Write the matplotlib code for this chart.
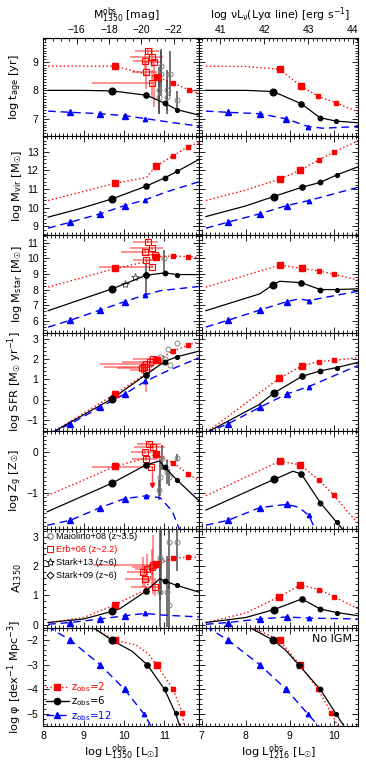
import matplotlib
matplotlib.use('Agg')
import matplotlib.pyplot as plt
from matplotlib.ticker import MultipleLocator, AutoMinorLocator, FixedLocator
from matplotlib.lines import Line2D

plt.rcParams['font.family'] = ['Liberation Sans', 'DejaVu Sans']
plt.rcParams['mathtext.fontset'] = 'dejavusans'
plt.rcParams['mathtext.default'] = 'regular'

# ---- model curves: z_obs -> (log L, value, indices of points with a marker)
tage_uv = {
    2: ([8.12, 9.0, 9.78, 10.81, 11.22, 11.61, 11.87], [8.85, 8.85, 8.85, 8.47, 8.26, 8.02, 7.88], [2, 3, 4, 5]),
    6: ([8.12, 9.0, 9.71, 10.56, 11.01, 11.32, 11.87], [8.0, 8.0, 7.98, 7.83, 7.55, 7.32, 7.13], [2, 3, 4, 5]),
    12: ([8.12, 8.67, 9.41, 10.02, 10.52, 11.05, 11.87], [7.27, 7.23, 7.18, 7.11, 7.01, 6.9, 6.74], [1, 2, 3, 4]),
}
tage_lya = {
    2: ([7.1, 8.0, 8.77, 9.26, 9.64, 10.05, 10.55], [8.85, 8.84, 8.74, 8.14, 7.79, 7.56, 7.24], [2, 3, 4, 5]),
    6: ([7.1, 8.0, 8.62, 9.26, 9.68, 10.05, 10.55], [8.0, 8.0, 7.96, 7.53, 7.04, 6.92, 6.86], [2, 3, 4, 5]),
    12: ([7.1, 7.6, 8.32, 8.92, 9.41, 9.75, 10.55], [7.27, 7.23, 7.18, 7.0, 6.73, 6.67, 6.73], [1, 2, 3, 4]),
}
mvir_uv = {
    2: ([8.12, 9.78, 10.56, 10.79, 11.22, 11.6, 11.87], [10.39, 11.31, 11.63, 12.22, 12.79, 13.28, 13.5], [1, 3, 4, 5]),
    6: ([8.12, 8.9, 9.71, 10.54, 11.01, 11.32, 11.87], [9.5, 9.95, 10.48, 11.15, 11.6, 11.95, 12.6], [2, 3, 4, 5]),
    12: ([8.12, 8.67, 9.41, 10.02, 10.52, 11.05, 11.87], [8.91, 9.23, 9.68, 10.12, 10.42, 10.85, 11.4], [1, 2, 3, 4]),
}
mvir_lya = {
    2: ([7.1, 8.0, 8.77, 9.24, 9.66, 10.0, 10.55], [10.39, 10.95, 11.54, 12.02, 12.57, 13.0, 13.59], [2, 3, 4, 5]),
    6: ([7.1, 8.0, 8.63, 9.27, 9.69, 10.06, 10.55], [9.53, 10.1, 10.6, 11.1, 11.36, 11.76, 12.2], [2, 3, 4, 5]),
    12: ([7.1, 7.6, 8.32, 8.93, 9.43, 10.55], [8.91, 9.23, 9.68, 10.12, 10.39, 11.1], [1, 2, 3, 4]),
}
mstar_uv = {
    2: ([8.12, 9.78, 10.6, 10.79, 11.22, 11.6, 11.87], [8.16, 9.35, 9.8, 10.1, 10.15, 10.1, 10.06], [1, 3, 4, 5]),
    6: ([8.12, 9.71, 10.56, 11.01, 11.32, 11.87], [6.65, 8.05, 8.92, 9.07, 8.96, 8.96], [1, 2, 3, 4]),
    12: ([8.12, 8.67, 9.41, 10.02, 10.52, 10.9, 11.87], [5.6, 6.04, 6.69, 7.23, 7.66, 7.93, 8.2], [1, 2, 3, 4]),
}
mstar_lya = {
    2: ([7.1, 8.78, 9.27, 9.66, 10.0, 10.55], [8.16, 9.57, 9.35, 9.2, 8.98, 8.6], [1, 2, 3, 4]),
    6: ([7.1, 8.32, 8.62, 8.77, 9.26, 9.69, 10.06, 10.55], [6.65, 7.73, 8.31, 8.53, 8.44, 8.0, 8.0, 8.05], [2, 4, 5, 6]),
    12: ([7.1, 7.6, 8.32, 8.93, 9.2, 9.43, 10.55], [5.6, 6.04, 6.69, 7.23, 7.4, 7.3, 7.9], [1, 2, 3, 5]),
}
sfr_uv = {
    2: ([8.2, 9.78, 10.56, 10.81, 11.22, 11.6, 11.87], [-1.65, 0.28, 1.31, 1.95, 2.41, 2.71, 2.87], [1, 3, 4, 5]),
    6: ([8.2, 9.71, 10.54, 11.01, 11.32, 11.87], [-1.65, 0.05, 1.23, 1.89, 2.13, 2.41], [1, 2, 3, 4]),
    12: ([8.2, 8.67, 9.41, 10.02, 10.52, 11.05, 11.87], [-1.65, -1.2, -0.38, 0.28, 0.9, 1.4, 2.08], [1, 2, 3, 4]),
}
sfr_lya = {
    2: ([7.1, 8.76, 9.27, 9.66, 10.0, 10.55], [-1.65, 1.06, 1.67, 1.89, 1.95, 2.08], [1, 2, 3, 4]),
    6: ([7.1, 8.3, 8.64, 9.27, 9.69, 10.06, 10.55], [-1.65, -0.25, 0.33, 1.15, 1.43, 1.59, 1.85], [2, 3, 4, 5]),
    12: ([7.1, 7.6, 8.32, 8.93, 9.43, 10.55], [-1.65, -1.2, -0.38, 0.28, 0.65, 1.7], [1, 2, 3, 4]),
}
zg_uv = {
    2: ([8.1, 9.78, 10.6, 10.79, 11.22, 11.6, 11.87], [-1.07, -0.35, -0.14, -0.06, -0.27, -0.54, -0.7], [1, 3, 4, 5]),
    6: ([8.1, 9.71, 10.54, 10.88, 11.01, 11.32, 11.87], [-1.46, -0.76, -0.32, -0.22, -0.37, -0.69, -1.2], [1, 2, 4, 5]),
    12: ([8.1, 8.67, 9.41, 10.02, 10.56, 10.9, 11.2, 11.4], [-1.79, -1.67, -1.36, -1.14, -1.07, -1.12, -1.45, -1.95], [1, 2, 3, 4]),
}
zg_lya = {
    2: ([7.1, 8.78, 9.24, 9.66, 10.0, 10.3, 10.55], [-1.07, -0.22, -0.32, -0.69, -1.06, -1.45, -1.75], [1, 2, 3, 4]),
    6: ([7.1, 8.64, 8.8, 9.07, 9.26, 9.69, 10.06, 10.25], [-1.42, -0.67, -0.6, -0.47, -0.54, -1.24, -1.72, -1.95], [1, 4, 5, 6]),
    12: ([7.1, 7.6, 8.32, 8.93, 9.2, 9.43, 9.6], [-1.79, -1.67, -1.36, -1.28, -1.35, -1.55, -1.95], [1, 2, 3, 5]),
}
a1350_uv = {
    2: ([8.12, 9.0, 9.78, 10.54, 10.79, 11.22, 11.6, 11.87], [0.08, 0.25, 0.68, 1.2, 2.06, 2.26, 2.31, 2.3], [2, 4, 5, 6]),
    6: ([8.12, 9.0, 9.71, 9.9, 10.54, 10.89, 11.01, 11.32, 11.87], [0.08, 0.2, 0.46, 0.55, 1.14, 1.57, 1.49, 1.34, 1.11], [2, 4, 6, 7]),
    12: ([8.12, 8.67, 9.41, 10.02, 10.52, 11.0, 11.87], [0.02, 0.08, 0.2, 0.31, 0.39, 0.33, 0.27], [1, 2, 3, 4]),
}
a1350_lya = {
    2: ([7.1, 8.0, 8.76, 9.24, 9.66, 10.0, 10.55], [0.08, 0.4, 0.96, 1.36, 1.2, 0.96, 0.54], [2, 3, 4, 5]),
    6: ([7.1, 8.0, 8.64, 9.27, 9.69, 10.06, 10.55], [0.08, 0.25, 0.52, 0.88, 0.54, 0.42, 0.31], [2, 3, 4, 5]),
    12: ([7.1, 7.6, 8.32, 8.93, 9.43, 10.55], [0.02, 0.08, 0.2, 0.27, 0.23, 0.2], [1, 2, 3, 4]),
}
phi_uv = {
    2: ([9.16, 9.78, 10.3, 10.6, 10.81, 11.22, 11.45, 11.5], [-1.45, -2.0, -2.2, -2.55, -3.0, -3.99, -4.96, -5.5], [1, 4, 5, 6]),
    6: ([9.2, 9.7, 10.2, 10.58, 11.01, 11.28, 11.39], [-1.45, -2.0, -2.45, -3.0, -4.0, -4.97, -5.5], [1, 3, 4, 5]),
    12: ([8.1, 8.67, 9.41, 10.02, 10.5, 10.68], [-1.45, -2.0, -3.0, -4.0, -5.0, -5.5], [1, 2, 3, 4]),
}
phi_lya = {
    2: ([8.09, 8.77, 9.22, 9.64, 9.94, 10.09], [-1.45, -2.0, -3.0, -4.0, -4.96, -5.5], [1, 2, 3, 4]),
    6: ([8.05, 8.62, 8.9, 9.2, 9.69, 10.05, 10.23], [-1.45, -2.0, -2.4, -3.0, -4.0, -5.0, -5.5], [1, 3, 4, 5]),
    12: ([7.1, 7.6, 8.32, 8.92, 9.41, 9.66], [-1.45, -2.0, -3.0, -4.0, -5.0, -5.5], [1, 2, 3, 4]),
}

# ---- observations: (x, y, xerr_lo, xerr_hi, yerr_lo, yerr_hi)
erb_tage = ([10.60, 10.70, 10.52, 10.75, 10.54, 10.69], [9.38, 9.18, 9.03, 9.0, 8.64, 8.27],
            [0.33, 0.55, 0.3, 0.3, 0.35, 1.49], [0.28, 0.26, 0.33, 0.2, 0.27, 0.04],
            [0.12, 0.35, 0.3, 1.6, 0.6, 0.55], [0.12, 0.3, 0.25, 0.1, 0.4, 0.45])
erb_mstar = ([10.6, 10.7, 10.52, 10.56, 10.69, 10.77], [11.07, 10.65, 10.43, 9.89, 9.46, 10.2],
             [0.37, 0.55, 0.6, 0.33, 1.3, 0.3], [0.25, 0.26, 0.2, 0.25, 0.03, 0.1],
             [0.1, 0.1, 0.1, 0.1, 0.1, 0.1], [0.1, 0.1, 0.1, 0.1, 0.1, 0.1])
erb_sfr = ([10.73, 10.65, 10.56, 10.5, 10.44, 10.55], [2.0, 1.89, 1.77, 1.64, 1.56, 1.48],
           [0.5, 0.7, 1.15, 1.0, 0.6, 0.4], [0.1, 0.15, 0.2, 0.2, 0.15, 0.2],
           [0.15, 0.2, 0.15, 0.2, 0.3, 1.1], [0.15, 0.2, 0.15, 0.2, 0.3, 0.2])
erb_zg = ([10.62, 10.52, 10.71, 10.54, 10.67], [0.2, 0.0, 0.11, -0.16, -0.37],
          [0.3, 0.35, 0.45, 0.35, 1.45], [0.3, 0.3, 0.3, 0.3, 0.05],
          [0.05, 0.05, 0.05, 0.05, 0.0], [0.05, 0.05, 0.05, 0.05, 0.0])
erb_zg_limit = ([10.69], [-0.37], [-0.81])
erb_a1350 = ([10.69, 10.48, 10.52, 10.73, 10.77, 10.58], [1.97, 1.8, 1.57, 2.05, 1.28, 1.91],
             [0.5, 0.4, 0.5, 1.5, 0.6, 0.3], [0.15, 0.15, 0.15, 0.05, 0.15, 0.15],
             [0.6, 0.5, 0.4, 1.0, 0.3, 0.5], [0.6, 0.5, 0.4, 1.0, 0.3, 0.5])

mai_tage = ([10.93, 10.93, 11.14, 10.88, 11.06, 10.88, 11.06, 11.32], [8.85, 8.59, 8.59, 8.02, 8.02, 7.76, 7.76, 7.67],
            [0.6, 0.8, 0.8, 0.8, 0.7, 0.6, 0.6, 0.3])
mai_mstar = ([11.0], [10.0], [1.08], [0.53])
mai_sfr = ([11.31, 11.1, 10.89, 11.02, 10.98, 11.14], [2.79, 2.49, 2.1, 2.0, 1.89, 1.72])
mai_zg = ([10.95, 11.31, 10.89, 11.06, 11.12, 10.88], [-0.14, -0.14, -0.62, -0.49, -0.62, -0.93],
          [0.3, 0.08, 0.45, 0.3, 0.2, 0.25])
mai_a1350 = ([10.89, 11.12, 11.32, 10.89, 11.07, 11.12, 10.93], [2.26, 2.83, 2.83, 1.13, 1.13, 0.68, 2.2],
             [1.4, 1.6, 1.0, 1.2, 1.2, 0.8, 1.2])
stark13_mstar = ([10.03, 10.28], [8.33, 8.81])
stark09_mstar = ([10.56], [8.95], [1.3], [0.75])

mag_ticks = [-16, -18, -20, -22]
lya_ticks = [41, 42, 43, 44]

SUN = '$_{☉}$'
ylabels = ['log t$_{age}$ [yr]', 'log M$_{vir}$ [M' + SUN + ']', 'log M$_{star}$ [M' + SUN + ']',
           'log SFR [M' + SUN + ' yr$^{-1}$]', 'log Z$_g$ [Z' + SUN + ']', 'A$_{1350}$',
           'log φ [dex$^{-1}$ Mpc$^{-3}$]']
ylims = [(6.38, 9.83), (8.56, 13.82), (5.23, 11.51), (-1.56, 3.31), (-1.89, 0.51), (-0.09, 3.25), (-5.47, -1.49)]
minor_n = [10, 5, 5, 5, 10, 5, 5]
left_models = [tage_uv, mvir_uv, mstar_uv, sfr_uv, zg_uv, a1350_uv, phi_uv]
right_models = [tage_lya, mvir_lya, mstar_lya, sfr_lya, zg_lya, a1350_lya, phi_lya]

style = {
    2: dict(c='red', ls=(0, (1, 1.8)), lw=1.0, m='s', ms=[4.8, 3.9, 3.3, 2.7]),
    6: dict(c='black', ls='-', lw=0.9, m='o', ms=[4.8, 3.8, 3.2, 2.7]),
    12: dict(c='blue', ls=(0, (5.5, 3.5)), lw=1.0, m='^', ms=[5.0, 4.3, 3.7, 3.2]),
}
LBL = dict(fontfamily='DejaVu Sans')

fig = plt.figure(figsize=(3.66, 7.64), dpi=100)
gs = fig.add_gridspec(7, 2, left=0.1183, right=0.979, top=0.9499, bottom=0.0501,
                      wspace=0, hspace=0, width_ratios=[156, 159])

def draw_models(ax, curves):
    for z, (xs, ys, mk) in curves.items():
        s = style[z]
        ax.plot(xs, ys, color=s['c'], ls=s['ls'], lw=s['lw'], zorder=4)
        for k, i in enumerate(mk):
            ax.plot(xs[i], ys[i], ls='none', marker=s['m'], ms=s['ms'][k], color=s['c'], mec=s['c'], zorder=5)

def draw_erb(ax, d):
    x, y, xlo, xhi, ylo, yhi = d
    ax.errorbar(x, y, xerr=[xlo, xhi], yerr=[ylo, yhi], fmt='s', mfc='none', mec='red', mew=0.8, ms=4,
                ecolor=(1, 0.15, 0.15, 0.6), elinewidth=1.2, capsize=0, zorder=3)

def draw_mai(ax, x, y, yerr=None):
    ax.errorbar(x, y, yerr=yerr, fmt='o', mfc='none', mec='0.5', mew=0.7, ms=3.6,
                ecolor='0.3', elinewidth=1.1, capsize=0, zorder=3)

axes = []
for r in range(7):
    axl = fig.add_subplot(gs[r, 0])
    axr = fig.add_subplot(gs[r, 1])
    axes.append((axl, axr))
    for ax, models, xl in ((axl, left_models[r], (8.0, 11.87)), (axr, right_models[r], (6.95, 10.55))):
        draw_models(ax, models)
        ax.set_xlim(*xl)
        ax.set_ylim(*ylims[r])
        ax.xaxis.set_major_locator(MultipleLocator(1))
        ax.xaxis.set_minor_locator(AutoMinorLocator(10))
        ax.yaxis.set_major_locator(MultipleLocator(1))
        ax.yaxis.set_minor_locator(AutoMinorLocator(minor_n[r]))
        ax.tick_params(which='both', direction='in', top=(r > 0), right=True, labelsize=7.5, width=0.6)
        ax.tick_params(which='major', length=4.5)
        ax.tick_params(which='minor', length=2.2)
        for sp in ax.spines.values():
            sp.set_linewidth(0.8)
        if r < 6:
            ax.tick_params(labelbottom=False)
    axr.tick_params(labelleft=False)
    axl.set_ylabel(ylabels[r], fontsize=8.2, **LBL)
    axl.yaxis.set_label_coords(-0.125, 0.5)

# observations on the left column
ax = axes[0][0]
draw_erb(ax, erb_tage)
draw_mai(ax, mai_tage[0], mai_tage[1], mai_tage[2])

ax = axes[2][0]
draw_erb(ax, erb_mstar)
draw_mai(ax, mai_mstar[0], mai_mstar[1], [mai_mstar[2], mai_mstar[3]])
ax.plot(stark13_mstar[0], stark13_mstar[1], ls='none', marker='*', mfc='none', mec='0.35', mew=0.7, ms=6, zorder=3)
ax.errorbar(stark09_mstar[0], stark09_mstar[1], yerr=[stark09_mstar[2], stark09_mstar[3]], fmt='D',
            mfc='none', mec='black', mew=0.7, ms=3.5, ecolor='0.3', elinewidth=1.1, capsize=0, zorder=3)

ax = axes[3][0]
draw_erb(ax, erb_sfr)
draw_mai(ax, mai_sfr[0], mai_sfr[1])

ax = axes[4][0]
draw_erb(ax, erb_zg)
for x0, y0, y1 in zip(*erb_zg_limit):
    ax.plot([x0, x0], [y0, y1], color=(1, 0.15, 0.15, 0.8), lw=1.0, zorder=3)
    ax.plot(x0, y1, marker='v', color='red', ms=3, zorder=3)
draw_mai(ax, mai_zg[0], mai_zg[1], mai_zg[2])

ax = axes[5][0]
draw_erb(ax, erb_a1350)
draw_mai(ax, mai_a1350[0], mai_a1350[1], mai_a1350[2])
obs_handles = [
    Line2D([], [], ls='none', marker='o', mfc='none', mec='0.4', ms=4, mew=0.7),
    Line2D([], [], ls='none', marker='s', mfc='none', mec='red', ms=4.5, mew=0.7),
    Line2D([], [], ls='none', marker='*', mfc='none', mec='black', ms=6, mew=0.6),
    Line2D([], [], ls='none', marker='D', mfc='none', mec='black', ms=3.5, mew=0.7),
]
ax.legend(obs_handles, ['Maiolino+08 (z~3.5)', 'Erb+06 (z~2.2)', 'Stark+13 (z~6)', 'Stark+09 (z~6)'],
          loc='upper left', frameon=False, prop={'family': 'Liberation Sans', 'size': 6.6},
          handlelength=0.8, handletextpad=0.3, labelspacing=0.45, borderpad=0.1, borderaxespad=0.2,
          labelcolor=['black', 'red', 'black', 'black'])

# redshift legend
ax = axes[6][0]
z_handles = [Line2D([], [], color=style[z]['c'], ls=style[z]['ls'], lw=1.0, marker=style[z]['m'], ms=4.5)
             for z in (2, 6, 12)]
ax.legend(z_handles, ['z$_{obs}$=2', 'z$_{obs}$=6', 'z$_{obs}$=12'], loc='lower left', frameon=False,
          prop={'family': 'DejaVu Sans', 'size': 7.3}, handlelength=2.2, handletextpad=0.2,
          labelspacing=0.05, borderpad=0.1, borderaxespad=0.2, labelcolor=['red', 'black', 'blue'])
axes[6][1].text(0.958, 0.886, 'No IGM', transform=axes[6][1].transAxes, ha='right', va='center',
                fontsize=8, **LBL)

axes[6][0].set_xlabel('log L$^{obs}_{1350}$ [L' + SUN + ']', fontsize=8.2, labelpad=1, **LBL)
axes[6][1].set_xlabel('log L$^{obs}_{1216}$ [L' + SUN + ']', fontsize=8.2, labelpad=1, **LBL)

# top axes
sec_l = axes[0][0].secondary_xaxis('top', functions=(lambda x: -16 - 2.5 * (x - 8.83),
                                                     lambda m: 8.83 - (m + 16) / 2.5))
sec_l.xaxis.set_major_locator(FixedLocator(mag_ticks))
sec_l.xaxis.set_minor_locator(MultipleLocator(0.5))
sec_r = axes[0][1].secondary_xaxis('top', functions=(lambda x: x + 33.58, lambda x: x - 33.58))
sec_r.xaxis.set_major_locator(FixedLocator(lya_ticks))
sec_r.xaxis.set_minor_locator(MultipleLocator(0.1))
for sec in (sec_l, sec_r):
    sec.tick_params(which='both', direction='in', labelsize=7.5, width=0.6, pad=2)
    sec.tick_params(which='major', length=4.5)
    sec.tick_params(which='minor', length=2.2)
fig.text(0.344, 1 - 19 / 764, 'M$^{obs}_{1350}$ [mag]', ha='center', va='baseline', fontsize=7.8, **LBL)
fig.text(0.765, 1 - 19 / 764, 'log νL$_ν$(Lyα line) [erg s$^{-1}$]', ha='center', va='baseline',
         fontsize=7.8, **LBL)

fig.savefig('out.png', dpi=100)
